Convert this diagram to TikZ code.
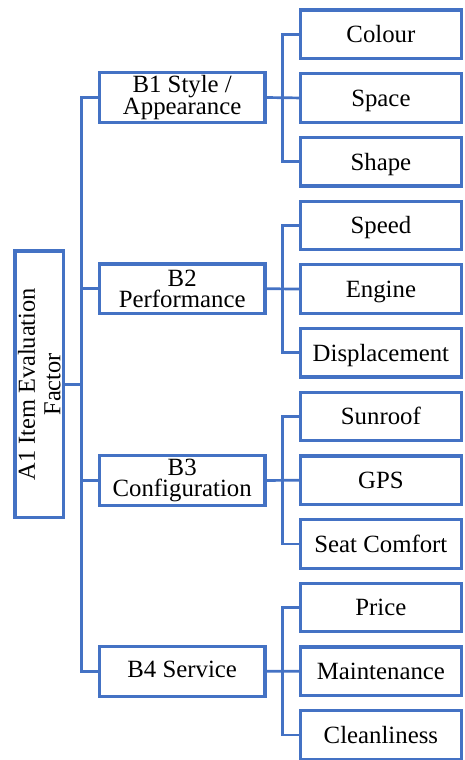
\documentclass[tikz,border=0pt]{standalone}
\usepackage{fontspec}
\setmainfont{Liberation Serif}
\definecolor{boxblue}{RGB}{68,114,196}
\tikzset{
  box/.style={draw=boxblue, line width=3.2pt, inner sep=0pt, outer sep=0pt, fill=white, align=center},
  leaf/.style={box, minimum width=161.2pt, minimum height=48.5pt, text height=16.8pt, text depth=0pt, font=\fontsize{24.8}{21.5}\selectfont},
  mid/.style={box, minimum width=165.7pt, minimum height=49.6pt, font=\fontsize{24.8}{21.5}\selectfont},
  conn/.style={draw=boxblue, line width=2.7pt}
}
\begin{document}
\begin{tikzpicture}[x=1pt,y=-1pt]
\useasboundingbox (0,0) rectangle (465,760);
% top level
\node[box, rotate=90, minimum width=266.7pt, minimum height=48.3pt, font=\fontsize{24.4}{25.5}\selectfont] (A1) at (39.2,384.3) {A1 Item Evaluation\\Factor};
% second level
\node[mid] (B1) at (182.2,97.5) {B1 Style /\\Appearance};
\node[mid] (B2) at (182.2,288.7) {B2\\Performance};
\node[mid] (B3) at (182.2,480.5) {B3\\Configuration};
\node[mid, text height=16.8pt, text depth=5pt] (B4) at (182.2,671.3) {B4 Service};
% leaves
\node[leaf] (L1) at (380.9,34.25) {Colour};
\node[leaf] (L2) at (380.9,97.95) {Space};
\node[leaf] (L3) at (380.9,161.65) {Shape};
\node[leaf] (L4) at (380.9,225.35) {Speed};
\node[leaf] (L5) at (380.9,289.05) {Engine};
\node[leaf] (L6) at (380.9,352.75) {Displacement};
\node[leaf] (L7) at (380.9,416.45) {Sunroof};
\node[leaf] (L8) at (380.9,480.15) {GPS};
\node[leaf] (L9) at (380.9,543.85) {Seat Comfort};
\node[leaf] (L10) at (380.9,607.55) {Price};
\node[leaf] (L11) at (380.9,671.25) {Maintenance};
\node[leaf] (L12) at (380.9,734.95) {Cleanliness};
% connector columns
\coordinate (tr) at (81.2,0);
\coordinate (lt) at (282.2,0);
% trunk from A1
\draw[conn] (B1.west) -- (B1.west -| tr) -- (B4.west -| tr) -- (B4.west);
\draw[conn] (A1.south) -- (A1.south -| tr);
\draw[conn] (B2.west) -- (B2.west -| tr);
\draw[conn] (B3.west) -- (B3.west -| tr);
% leaf groups
\foreach \b/\f/\m/\l in {B1/L1/L2/L3, B2/L4/L5/L6, B3/L7/L8/L9, B4/L10/L11/L12}{
  \draw[conn] (\f.west) -- (\f.west -| lt) -- (\l.west -| lt) -- (\l.west);
  \draw[conn] (\b.east) -- (\m.west);
}
\end{tikzpicture}
\end{document}
